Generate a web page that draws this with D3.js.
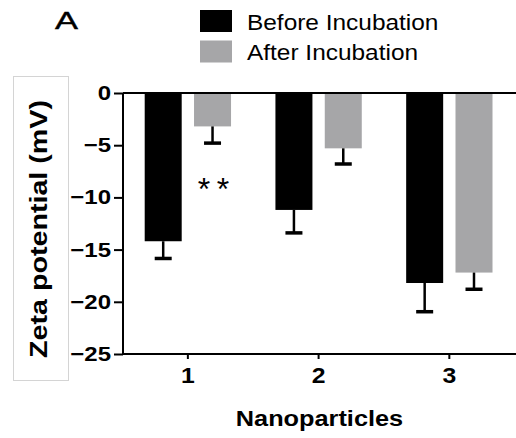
<!DOCTYPE html>
<html>
<head>
<meta charset="utf-8">
<script src="https://cdn.jsdelivr.net/npm/d3@7/dist/d3.min.js"></script>
<style>
  html, body { margin: 0; padding: 0; background: #fff; }
  svg { display: block; font-family: "Liberation Sans", Arial, Helvetica, sans-serif; }
</style>
</head>
<body>
<svg id="chart" width="516" height="438"></svg>
<script>
// ---- data ----
const categories = ["1", "2", "3"];
const seriesNames = ["Before Incubation", "After Incubation"];
const beforeMean = [-14.2, -11.2, -18.2];
const beforeSD = [1.65, 2.2, 2.75];
const afterMean = [-3.2, -5.3, -17.2];
const afterSD = [1.6, 1.5, 1.6];
const yTicks = [0, -5, -10, -15, -20, -25];
const seriesColors = ["#000000", "#a6a6a8"];
const significance = [{ category: "1", series: "After Incubation", label: "**" }];

const rows = categories.map((c, i) => ({
  category: c,
  values: [
    { series: seriesNames[0], mean: beforeMean[i], sd: beforeSD[i] },
    { series: seriesNames[1], mean: afterMean[i], sd: afterSD[i] }
  ]
}));

const svg = d3.select("#chart");

// stretch helper: the reference text is horizontally wider than plain Arial
function stretch(sel, factor) {
  sel.each(function () {
    const w = this.getComputedTextLength();
    d3.select(this).attr("textLength", w * factor).attr("lengthAdjust", "spacingAndGlyphs");
  });
}

// ---- scales ----
const plotLeft = 123, plotRight = 515, plotTop = 93, plotBottom = 354;
const x0 = d3.scaleBand().domain(categories).range([122.5, 514.7]).paddingInner(0).paddingOuter(0);
const x1 = d3.scaleBand().domain(seriesNames).range([0, x0.bandwidth()]).paddingInner(0.25).paddingOuter(0.45);
const y = d3.scaleLinear().domain([-25, 0]).range([plotBottom, plotTop]);
const color = d3.scaleOrdinal().domain(seriesNames).range(seriesColors);

// ---- y label box ----
svg.append("rect")
  .attr("x", 13.5).attr("y", 76.5).attr("width", 55).attr("height", 304)
  .attr("fill", "#fff").attr("stroke", "#d4d4d4").attr("stroke-width", 1);

// ---- bars ----
const groups = svg.append("g").selectAll("g").data(rows).join("g")
  .attr("transform", d => `translate(${x0(d.category)},0)`);

groups.selectAll("rect").data(d => d.values).join("rect")
  .attr("x", d => x1(d.series))
  .attr("width", x1.bandwidth())
  .attr("y", y(0))
  .attr("height", d => y(d.mean) - y(0))
  .attr("fill", d => color(d.series));

// error bars (downward only)
const capW = 17;
groups.selectAll("line.err").data(d => d.values).join("line")
  .attr("class", "err")
  .attr("x1", d => x1(d.series) + x1.bandwidth() / 2)
  .attr("x2", d => x1(d.series) + x1.bandwidth() / 2)
  .attr("y1", d => y(d.mean))
  .attr("y2", d => y(d.mean - d.sd))
  .attr("stroke", "#000").attr("stroke-width", 2.5);
groups.selectAll("line.cap").data(d => d.values).join("line")
  .attr("class", "cap")
  .attr("x1", d => x1(d.series) + x1.bandwidth() / 2 - capW / 2)
  .attr("x2", d => x1(d.series) + x1.bandwidth() / 2 + capW / 2)
  .attr("y1", d => y(d.mean - d.sd))
  .attr("y2", d => y(d.mean - d.sd))
  .attr("stroke", "#000").attr("stroke-width", 3.5);

// ---- axes ----
const yAxis = svg.append("g")
  .attr("transform", `translate(${plotLeft},0)`)
  .call(d3.axisLeft(y).tickValues(yTicks).tickSize(9).tickPadding(3).tickFormat(d3.format("d")));
yAxis.select(".domain").attr("stroke-width", 2).attr("d", `M0,${plotTop}V${plotBottom}`);
yAxis.selectAll(".tick line").attr("stroke-width", 2);
yAxis.selectAll(".tick text")
  .attr("font-size", 20.5).attr("font-weight", "bold").attr("fill", "#000")
  .attr("font-family", "Liberation Sans, Arial, sans-serif")
  .call(stretch, 1.17);

// zero line across top
svg.append("line")
  .attr("x1", plotLeft).attr("x2", plotRight + 1)
  .attr("y1", y(0)).attr("y2", y(0))
  .attr("stroke", "#000").attr("stroke-width", 2);

const xAxis = svg.append("g")
  .attr("transform", `translate(0,${plotBottom})`)
  .call(d3.axisBottom(x0).tickSize(5).tickPadding(9));
xAxis.select(".domain").attr("stroke-width", 2).attr("d", `M${plotLeft - 1},0H${plotRight + 1}`);
xAxis.selectAll(".tick line").attr("stroke-width", 2);
xAxis.selectAll(".tick text")
  .attr("font-size", 21.5).attr("font-weight", "bold").attr("fill", "#000")
  .attr("font-family", "Liberation Sans, Arial, sans-serif")
  .call(stretch, 1.15);

// ---- significance ----
significance.forEach(s => {
  const ls = 6.6;
  svg.append("text")
    .attr("x", x0(s.category) + x1(s.series) + x1.bandwidth() / 2 + 1 + ls / 2)
    .attr("y", 200)
    .attr("text-anchor", "middle")
    .attr("font-size", 32)
    .attr("letter-spacing", ls)
    .attr("fill", "#000")
    .text(s.label);
});

// ---- axis titles ----
const xTitle = svg.append("text")
  .attr("x", (plotLeft + plotRight) / 2 + 0.5).attr("y", 426)
  .attr("text-anchor", "middle")
  .attr("font-size", 22).attr("font-weight", "bold").attr("fill", "#000")
  .text("Nanoparticles");
xTitle.call(stretch, 1.15);

svg.append("text")
  .attr("transform", "translate(47,229) rotate(-90)")
  .attr("text-anchor", "middle")
  .attr("font-size", 23).attr("font-weight", "bold").attr("fill", "#000")
  .attr("textLength", 258).attr("lengthAdjust", "spacingAndGlyphs")
  .text("Zeta potential (mV)");

// ---- panel letter ----
svg.append("text")
  .attr("x", 55).attr("y", 28.5)
  .attr("font-size", 23.5).attr("fill", "#000").attr("stroke", "#000").attr("stroke-width", 0.4)
  .attr("textLength", 23).attr("lengthAdjust", "spacingAndGlyphs")
  .text("A");

// ---- legend ----
const legend = svg.append("g").selectAll("g").data(seriesNames).join("g")
  .attr("transform", (d, i) => `translate(200,${10 + i * 30.5})`);
legend.append("rect")
  .attr("width", 32).attr("height", 22)
  .attr("fill", d => color(d));
legend.append("text")
  .attr("x", 47).attr("y", 19.5)
  .attr("font-size", 22).attr("fill", "#000")
  .text(d => d)
  .call(stretch, 1.11);
</script>
</body>
</html>
